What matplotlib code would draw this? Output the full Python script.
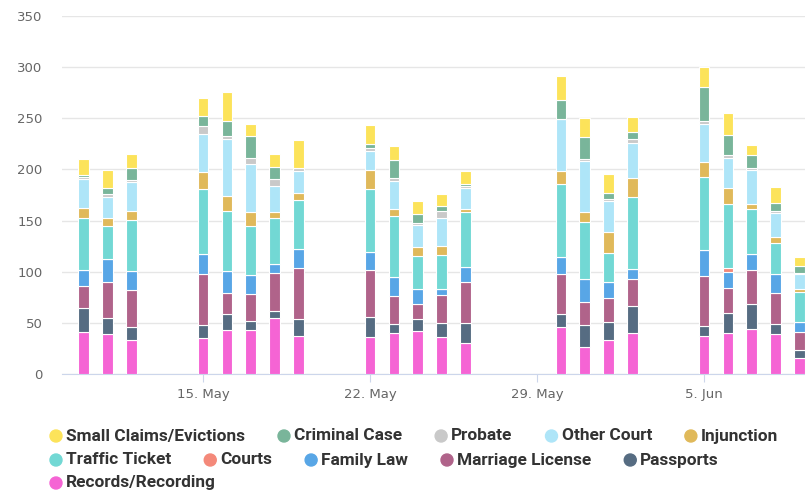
import pandas as pd
import matplotlib
matplotlib.use("Agg")
import matplotlib.pyplot as plt
import matplotlib.dates as mdates
from matplotlib.patches import Ellipse
import numpy as np

# days with requests (weekdays, no Memorial Day)
dates = ['2023-05-10', '2023-05-11', '2023-05-12',
         '2023-05-15', '2023-05-16', '2023-05-17', '2023-05-18', '2023-05-19',
         '2023-05-22', '2023-05-23', '2023-05-24', '2023-05-25', '2023-05-26',
         '2023-05-30', '2023-05-31', '2023-06-01', '2023-06-02',
         '2023-06-05', '2023-06-06', '2023-06-07', '2023-06-08', '2023-06-09']

records = [41, 39, 33, 35, 43, 43, 55, 37, 36, 40, 42, 36, 30, 46, 26, 33, 40, 37, 40, 44, 39, 16]
passports = [24, 16, 13, 13, 16, 9, 7, 17, 20, 9, 12, 14, 20, 13, 22, 18, 26, 10, 20, 24, 10, 7]
marriage = [21, 35, 36, 50, 20, 26, 37, 50, 46, 27, 14, 27, 40, 39, 22, 23, 27, 49, 24, 34, 30, 18]
family_law = [16, 22, 19, 19, 22, 19, 9, 18, 17, 19, 15, 6, 15, 16, 23, 16, 10, 25, 16, 15, 19, 10]
courts = [0, 0, 0, 0, 0, 0, 0, 0, 0, 0, 0, 0, 0, 0, 0, 0, 0, 0, 4, 0, 0, 0]
traffic = [51, 33, 50, 64, 58, 48, 45, 48, 62, 59, 32, 33, 53, 72, 56, 28, 70, 72, 62, 44, 30, 29]
injunction = [9, 8, 8, 16, 15, 13, 5, 7, 18, 7, 9, 9, 3, 12, 9, 21, 19, 14, 16, 5, 6, 3]
other_court = [29, 20, 29, 38, 56, 47, 26, 21, 19, 28, 22, 28, 21, 51, 50, 30, 34, 37, 29, 33, 23, 15]
probate = [2, 3, 2, 7, 3, 6, 7, 3, 3, 3, 2, 6, 2, 0, 2, 2, 4, 3, 3, 2, 2, 1]
criminal = [2, 6, 11, 10, 14, 22, 11, 0, 4, 17, 8, 5, 2, 19, 22, 6, 7, 34, 20, 13, 8, 7]
small_claims = [15, 17, 14, 18, 29, 11, 13, 28, 18, 14, 13, 12, 12, 23, 18, 19, 14, 19, 21, 10, 16, 8]

# bottom to top
series = [
    ("Records/Recording", records, "#f564d4"),
    ("Passports", passports, "#566c82"),
    ("Marriage License", marriage, "#b0638a"),
    ("Family Law", family_law, "#58a6e6"),
    ("Courts", courts, "#f4897a"),
    ("Traffic Ticket", traffic, "#72d8d4"),
    ("Injunction", injunction, "#e0b95a"),
    ("Other Court", other_court, "#aee5f8"),
    ("Probate", probate, "#c9c9c9"),
    ("Criminal Case", criminal, "#79b59a"),
    ("Small Claims/Evictions", small_claims, "#fce35a"),
]
colors = {name: c for name, vals, c in series}

legend_rows = [
    ["Small Claims/Evictions", "Criminal Case", "Probate", "Other Court", "Injunction"],
    ["Traffic Ticket", "Courts", "Family Law", "Marriage License", "Passports"],
    ["Records/Recording"],
]

W, H = 805, 493
fig = plt.figure(figsize=(W / 100, H / 100), dpi=100)
ax = fig.add_axes([62 / W, 1 - 374 / H, 1 - 62 / W, (374 - 16) / H])

x = mdates.date2num(pd.to_datetime(dates))
bottom = np.zeros(len(x))
for name, vals, c in series:
    vals = np.array(vals, dtype=float)
    ax.bar(x, vals, width=0.45, bottom=bottom, color=c, edgecolor="white",
           linewidth=0.8, zorder=3)
    bottom += vals

ax.set_xlim(mdates.date2num(pd.Timestamp('2023-05-09')) + 0.09,
            mdates.date2num(pd.Timestamp('2023-06-09')) + 0.23)
ax.set_ylim(0, 350)
ax.set_yticks(range(0, 351, 50))
ax.grid(axis="y", color="#e6e6e6", linewidth=1, zorder=0)
ax.set_axisbelow(True)

ticks = pd.to_datetime(['2023-05-15', '2023-05-22', '2023-05-29', '2023-06-05'])
ax.set_xticks(mdates.date2num(ticks))
ax.set_xticklabels([f"{d.day}. {d.strftime('%b')}" for d in ticks])

for s in ["top", "right", "left"]:
    ax.spines[s].set_visible(False)
ax.spines["bottom"].set_color("#ccd6eb")
ax.tick_params(axis="y", length=0, pad=14, labelsize=9.5, labelcolor="#666666")
ax.tick_params(axis="x", length=6, color="#ccd6eb", pad=4, labelsize=9.5,
               labelcolor="#666666")

# legend, flowing like the web chart
legend_font = ['Roboto', 'DejaVu Sans']
fig.canvas.draw()
renderer = fig.canvas.get_renderer()
# pick a size so the first label is as wide as in the original (~179 px)
probe = fig.text(0, 0, legend_rows[0][0], family=legend_font, fontweight="bold",
                 fontsize=10)
fs = 10 * 179 / probe.get_window_extent(renderer).width
probe.remove()

row_y = [436, 460, 483]
for row, yy in zip(legend_rows, row_y):
    xpos = 50
    for name in row:
        fig.add_artist(Ellipse(((xpos + 6) / W, 1 - yy / H), 12 / W, 12 / H,
                               transform=fig.transFigure, color=colors[name]))
        t = fig.text((xpos + 16) / W, 1 - yy / H, name, family=legend_font,
                     fontweight="bold", fontsize=fs, color="#333333",
                     va="center", ha="left")
        bb = t.get_window_extent(renderer)
        xpos = xpos + 16 + bb.width + 33

fig.savefig("out.png", dpi=100)
